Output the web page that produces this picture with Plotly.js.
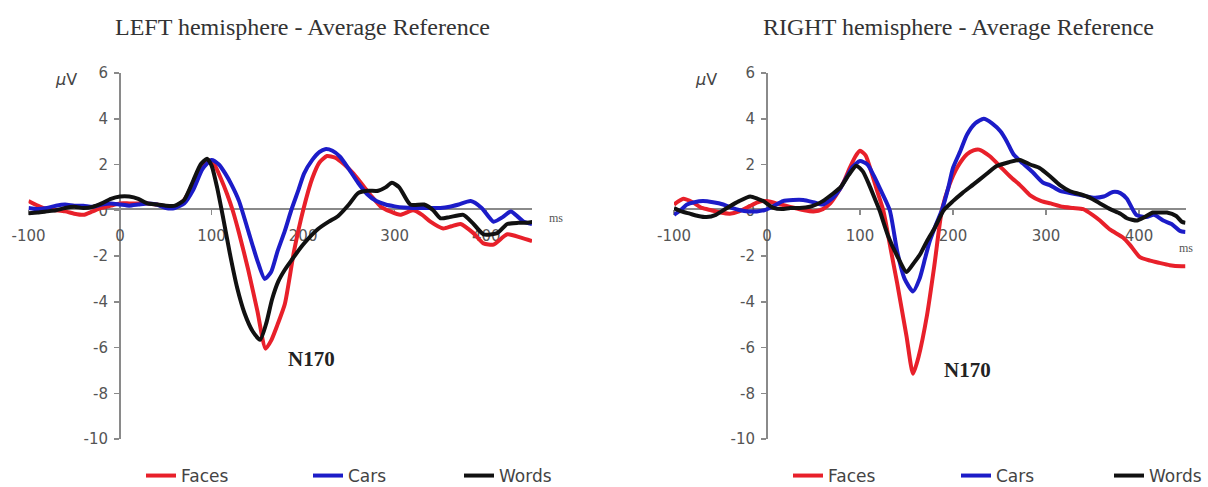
<!DOCTYPE html>
<html><head><meta charset="utf-8">
<script src="https://cdn.plot.ly/plotly-3.0.1.min.js"></script>
<style>html,body{margin:0;padding:0;background:#fff;} #chart{width:1208px;height:487px;}</style>
</head><body><div id="chart"></div>
<script>
// ---------- DATA ----------
const seriesNames = ["Faces", "Cars", "Words"];
const xTickVals = [-100, 0, 100, 200, 300, 400];
const xTickText = ["-100", "0", "100", "200", "300", "400"];
const yTickVals = [-10, -8, -6, -4, -2, 0, 2, 4, 6];
const yTickText = ["-10", "-8", "-6", "-4", "-2", "0", "2", "4", "6"];

// LEFT hemisphere
const leftFacesT = [-100,-90,-80,-70,-60,-50,-40,-30,-20,-10,0,10,20,30,40,50,60,70,80,90,96,103,110,117,123,130,140,150,159,165,172,180,190,200,210,218,226,235,245,255,265,275,285,295,306,320,330,339,353,362,372,386,397,408,423,438,450];
const leftFacesV = [0.4,0.2,0.05,0.0,-0.05,-0.15,-0.2,-0.05,0.1,0.2,0.3,0.3,0.3,0.3,0.25,0.15,0.15,0.45,1.2,2.0,2.2,2.0,1.4,0.7,0.0,-1.0,-2.6,-4.4,-6.05,-5.7,-5.0,-4.1,-1.8,0.0,1.4,2.1,2.37,2.3,2.0,1.6,1.1,0.6,0.15,-0.05,-0.2,0.0,-0.2,-0.5,-0.8,-0.7,-0.6,-1.0,-1.45,-1.5,-1.05,-1.2,-1.35];

const leftCarsT = [-100,-90,-80,-70,-60,-50,-40,-30,-20,-10,0,10,20,30,40,50,60,70,80,90,100,108,115,122,130,140,150,158,165,172,180,187,195,201,210,218,224,232,240,250,260,270,280,290,300,310,320,335,350,360,370,383,395,408,418,427,435,441,450];
const leftCarsV = [0.1,0.05,0.1,0.2,0.25,0.2,0.2,0.15,0.25,0.3,0.25,0.2,0.25,0.3,0.25,0.1,0.1,0.3,0.9,1.8,2.2,2.0,1.6,1.1,0.4,-0.9,-2.2,-3.0,-2.7,-1.8,-0.9,0.0,0.9,1.6,2.2,2.55,2.67,2.6,2.35,1.8,1.2,0.7,0.4,0.25,0.17,0.12,0.1,0.1,0.1,0.15,0.25,0.4,0.1,-0.5,-0.3,-0.05,-0.3,-0.5,-0.6];

const leftWordsT = [-100,-90,-80,-70,-60,-50,-40,-30,-20,-10,0,10,20,30,40,50,60,70,80,88,95,100,106,112,120,128,136,145,153,160,166,173,180,187,200,216,228,238,250,260,270,282,290,297,305,317,332,342,350,360,375,385,397,412,423,435,445,452];
const leftWordsV = [-0.13,-0.1,-0.05,0.0,0.1,0.15,0.1,0.15,0.3,0.5,0.6,0.6,0.5,0.3,0.25,0.2,0.2,0.45,1.3,2.0,2.25,1.95,1.0,-0.2,-1.9,-3.4,-4.5,-5.3,-5.66,-4.9,-3.9,-3.1,-2.6,-2.2,-1.5,-0.83,-0.5,-0.26,0.25,0.75,0.85,0.85,1.0,1.2,1.0,0.25,0.25,0.0,-0.35,-0.3,-0.2,-0.55,-1.05,-1.0,-0.6,-0.55,-0.55,-0.5];

// RIGHT hemisphere
const rightFacesT = [-100,-90,-80,-70,-60,-50,-40,-30,-20,-10,0,10,20,30,40,50,60,68,75,82,89,95,100,106,112,118,125,133,140,150,157,163,172,180,188,196,205,215,222,228,240,251,262,272,283,295,305,318,329,340,350,358,369,383,390,401,412,422,433,446,450];
const rightFacesV = [0.25,0.5,0.35,0.1,0.0,-0.1,-0.15,-0.05,0.15,0.35,0.4,0.3,0.2,0.1,0.0,-0.05,0.05,0.3,0.7,1.2,1.85,2.35,2.6,2.4,1.7,0.9,0.0,-1.7,-3.2,-5.5,-7.15,-6.4,-4.6,-2.4,0.0,1.1,1.9,2.45,2.62,2.65,2.35,1.9,1.45,1.1,0.65,0.4,0.3,0.15,0.1,0.05,-0.2,-0.45,-0.85,-1.2,-1.5,-2.05,-2.2,-2.3,-2.4,-2.45,-2.45];

const rightCarsT = [-100,-93,-86,-78,-69,-58,-47,-38,-29,-20,-11,-3,3,10,17,28,39,50,60,71,78,85,92,100,108,115,122,132,140,148,157,164,170,175,181,188,195,200,208,215,224,233,242,251,258,265,275,286,297,304,315,333,351,362,372,380,387,397,408,416,426,435,444,450];
const rightCarsV = [-0.2,0.0,0.25,0.35,0.4,0.35,0.25,0.1,0.0,-0.05,-0.05,0.0,0.1,0.25,0.4,0.45,0.45,0.35,0.25,0.55,0.9,1.4,1.9,2.15,2.0,1.5,0.9,0.0,-1.8,-3.0,-3.55,-3.0,-2.1,-1.35,-0.7,0.0,1.0,1.85,2.6,3.3,3.8,4.0,3.8,3.45,3.0,2.45,2.05,1.65,1.2,1.1,0.85,0.7,0.55,0.6,0.8,0.75,0.5,-0.2,-0.3,-0.2,-0.45,-0.6,-0.9,-0.95];

const rightWordsT = [-100,-92,-83,-74,-65,-55,-43,-30,-18,-10,-4,7,16,25,35,46,53,60,70,79,88,96,103,110,115,121,130,140,150,158,165,172,180,190,200,210,222,235,247,260,272,283,293,304,315,326,337,347,358,369,380,387,398,406,415,423,430,440,446,450];
const rightWordsV = [0.1,-0.05,-0.15,-0.25,-0.3,-0.2,0.1,0.4,0.6,0.5,0.4,0.1,0.05,0.1,0.1,0.15,0.25,0.4,0.7,1.0,1.55,1.95,1.7,1.1,0.6,0.0,-1.1,-2.0,-2.7,-2.3,-1.9,-1.35,-0.8,0.0,0.4,0.75,1.13,1.55,1.93,2.1,2.2,2.0,1.85,1.5,1.1,0.83,0.7,0.55,0.3,0.05,-0.15,-0.35,-0.45,-0.3,-0.1,-0.1,-0.1,-0.25,-0.5,-0.55];

// ---------- STYLE ----------
const W = 1208, H = 487;
const colors = ["#e8202a", "#1c1cc8", "#111111"];
const px = x => x / W;
const py = y => 1 - y / H;
const tickFont = {family: "DejaVu Sans, Arial, sans-serif", size: 15, color: "#555"};
const axisGray = "#8a8a8a";

function mk(t, v, i, xa, ya, lg, lw) {
  return {x: t, y: v, type: "scatter", mode: "lines", name: seriesNames[i],
    xaxis: xa, yaxis: ya, legend: lg, legendwidth: lw,
    line: {color: colors[i], width: 4, shape: "spline", smoothing: 0.6},
    hoverinfo: "skip"};
}

const traces = [
  mk(leftFacesT, leftFacesV, 0, "x", "y", "legend", 122),
  mk(leftCarsT, leftCarsV, 1, "x", "y", "legend", 106),
  mk(leftWordsT, leftWordsV, 2, "x", "y", "legend", 60),
  mk(rightFacesT, rightFacesV, 0, "x2", "y2", "legend2", 123),
  mk(rightCarsT, rightCarsV, 1, "x2", "y2", "legend2", 108),
  mk(rightWordsT, rightWordsV, 2, "x2", "y2", "legend2", 60)
];

const yDom = [py(439), py(73)];
const zeroY = py(209);
function xax(x0, x1) {
  return {domain: [px(x0), px(x1)], range: [-100, 450], anchor: "free", position: zeroY,
    showline: true, linecolor: axisGray, linewidth: 2, ticks: "outside", ticklen: 5,
    tickwidth: 1.5, tickcolor: axisGray, tickvals: xTickVals, ticktext: xTickText,
    tickfont: tickFont, ticklabelstandoff: 8, showgrid: false, zeroline: false,
    layer: "below traces", fixedrange: true, automargin: false};
}
function yax(xpos) {
  return {domain: yDom, range: [-10, 6], anchor: "free", position: px(xpos),
    showline: true, linecolor: axisGray, linewidth: 2, ticks: "outside", ticklen: 5,
    tickwidth: 1.5, tickcolor: axisGray, tickvals: yTickVals, ticktext: yTickText,
    tickfont: tickFont, ticklabelstandoff: 3, showgrid: false, zeroline: false,
    layer: "below traces", fixedrange: true, automargin: false};
}
function lgd(x) {
  return {orientation: "h", x: px(x), y: py(476), xanchor: "left", yanchor: "middle",
    font: {family: "DejaVu Sans, Arial, sans-serif", size: 17, color: "#444"},
    bgcolor: "rgba(0,0,0,0)", borderwidth: 0, itemclick: false, itemdoubleclick: false};
}

const titleFont = {family: "Liberation Serif, Times New Roman, serif", size: 24, color: "#333"};
const annotations = [
  {text: "LEFT hemisphere - Average Reference", x: px(302), y: py(27), xref: "paper", yref: "paper", showarrow: false, font: titleFont, xanchor: "center", yanchor: "middle"},
  {text: "RIGHT hemisphere - Average Reference", x: px(958), y: py(27), xref: "paper", yref: "paper", showarrow: false, font: titleFont, xanchor: "center", yanchor: "middle"},
  {text: "<i>μ</i>V", x: px(66), y: py(79), xref: "paper", yref: "paper", showarrow: false, font: {family: "DejaVu Sans, Arial, sans-serif", size: 16, color: "#444"}, xanchor: "center", yanchor: "middle"},
  {text: "<i>μ</i>V", x: px(706), y: py(79), xref: "paper", yref: "paper", showarrow: false, font: {family: "DejaVu Sans, Arial, sans-serif", size: 16, color: "#444"}, xanchor: "center", yanchor: "middle"},
  {text: "ms", x: px(556), y: py(218), xref: "paper", yref: "paper", showarrow: false, font: {family: "Liberation Serif, serif", size: 12, color: "#555"}, xanchor: "center", yanchor: "middle"},
  {text: "ms", x: px(1186), y: py(248), xref: "paper", yref: "paper", showarrow: false, font: {family: "Liberation Serif, serif", size: 12, color: "#555"}, xanchor: "center", yanchor: "middle"},
  {text: "<b>N170</b>", x: 209, y: -6.5, xref: "x", yref: "y", showarrow: false, font: {family: "Liberation Serif, Times New Roman, serif", size: 21, color: "#222"}, xanchor: "center", yanchor: "middle"},
  {text: "<b>N170</b>", x: 216, y: -7.0, xref: "x2", yref: "y2", showarrow: false, font: {family: "Liberation Serif, Times New Roman, serif", size: 21, color: "#222"}, xanchor: "center", yanchor: "middle"}
];

const layout = {
  width: W, height: H, margin: {l: 0, r: 0, t: 0, b: 0, autoexpand: false},
  paper_bgcolor: "#fff", plot_bgcolor: "rgba(0,0,0,0)",
  showlegend: true,
  xaxis: xax(28.5, 532), yaxis: yax(120),
  xaxis2: xax(674, 1185.5), yaxis2: yax(767),
  legend: lgd(141), legend2: lgd(788),
  annotations: annotations
};

Plotly.newPlot("chart", traces, layout, {staticPlot: true, displayModeBar: false});
</script></body></html>
